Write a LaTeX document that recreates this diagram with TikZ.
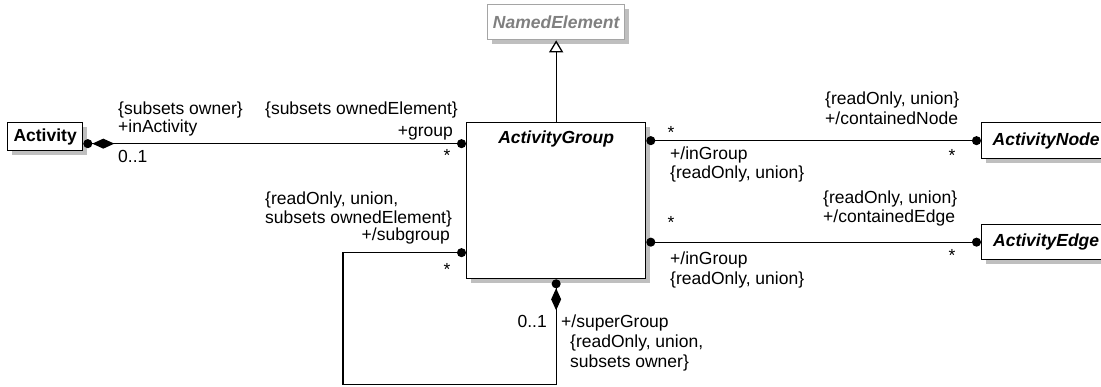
\documentclass[tikz,border=0pt]{standalone}
\usepackage{fontspec}
\setmainfont{Liberation Sans}
\usetikzlibrary{arrows.meta,shadows}
\newcommand{\umlsize}{\fontsize{17.5}{20}\selectfont}
\definecolor{abstractgray}{RGB}{128,128,128}
\definecolor{abstractline}{RGB}{165,165,165}
\tikzset{
  umlbox/.style={draw, line width=1.3pt, fill=white, inner sep=0pt, anchor=north west,
    general shadow={fill=black!25, shadow xshift=4pt, shadow yshift=-4pt}},
  role/.style={inner sep=0pt, font=\umlsize, text height=12pt, text depth=3.5pt},
  mult/.style={inner sep=0pt, font=\umlsize},
  assoc/.style={line width=1.3pt},
}
\begin{document}
\begin{tikzpicture}[x=1pt,y=-1pt]
\useasboundingbox (0,0) rectangle (1101,386);
% classes
\node[umlbox, minimum width=75pt, minimum height=28pt, font=\umlsize\bfseries] (act) at (7,122) {Activity};
\node[umlbox, draw=abstractline, text=abstractgray, minimum width=137pt, minimum height=35pt,
  font=\umlsize\bfseries\itshape] (named) at (487,4) {NamedElement};
\node[umlbox, minimum width=179pt, minimum height=156pt] (grp) at (466,122) {};
\node[inner sep=0pt, font=\umlsize\bfseries\itshape] (grpname) at ([yshift=-17pt]grp.north) {ActivityGroup};
\node[umlbox, minimum width=129pt, minimum height=36pt, font=\umlsize\bfseries\itshape] (anode) at (981,122) {ActivityNode};
\node[umlbox, minimum width=129pt, minimum height=35pt, font=\umlsize\bfseries\itshape] (aedge) at (981,224) {ActivityEdge};
% generalization
\draw[assoc, -{Triangle[open, length=12pt, width=14pt]}] (grp.north) -- (named.south);
% Activity -- ActivityGroup
\coordinate (actend) at ([yshift=-7pt]act.east);
\draw[assoc, {Circle[length=9pt]}-{Diamond[length=22pt, width=10pt] Circle[length=9pt]}]
  (actend -| grp.west) -- (actend);
\node[role, anchor=west] (ownerc) at (118,110) {\{subsets owner\}};
\node[role, anchor=west] (inact) at (118,128) {+inActivity};
\node[role, anchor=west] (inactm) at (118,158) {0..1};
\node[role, anchor=east] (ownedc) at (458,110) {\{subsets ownedElement\}};
\node[role, anchor=east] (group) at (453,132) {+group};
\node[mult] (groupm) at (447,155.5) {*};
% ActivityGroup -- ActivityNode
\draw[assoc, {Circle[length=9pt]}-{Circle[length=9pt]}] (grp.east |- anode.west) -- (anode.west);
\node[mult] (ingrpm1) at (671,132.5) {*};
\node[role, anchor=west] (cnodec) at (825,100) {\{readOnly, union\}};
\node[role, anchor=west] (cnode) at (825,120) {+/containedNode};
\node[role, anchor=west] (ingrp1) at (670,155) {+/inGroup};
\node[role, anchor=west] (ingrpc1) at (670,174) {\{readOnly, union\}};
\node[mult] (cnodem) at (952,155.5) {*};
% ActivityGroup -- ActivityEdge
\draw[assoc, {Circle[length=9pt]}-{Circle[length=9pt]}] (grp.east |- aedge.west) -- (aedge.west);
\node[role, anchor=west] (cedgec) at (823,199) {\{readOnly, union\}};
\node[role, anchor=west] (cedge) at (823,218) {+/containedEdge};
\node[mult] (ingrpm2) at (671,222.5) {*};
\node[role, anchor=west] (ingrp2) at (670,260) {+/inGroup};
\node[role, anchor=west] (ingrpc2) at (670,280) {\{readOnly, union\}};
\node[mult] (cedgem) at (952,255.5) {*};
% ActivityGroup -- ActivityGroup
\coordinate (subend) at ([yshift=-52pt]grp.west);
\draw[assoc, {Circle[length=9pt]}-{Diamond[length=22pt, width=10pt] Circle[length=9pt]}]
  (subend) -- ++(-123,0) -- ++(0,132) -| (grp.south);
\node[role, anchor=west] (subc1) at (265,200) {\{readOnly, union,};
\node[role, anchor=west] (subc2) at (265,219) {subsets ownedElement\}};
\node[role, anchor=east] (sub) at (450,236) {+/subgroup};
\node[mult] (subm) at (447,269) {*};
\node[role, anchor=east] (superm) at (547,323) {0..1};
\node[role, anchor=west] (super) at (561,323) {+/superGroup};
\node[role, anchor=west] (superc1) at (570,343) {\{readOnly, union,};
\node[role, anchor=west] (superc2) at (570,363) {subsets owner\}};
\end{tikzpicture}
\end{document}
